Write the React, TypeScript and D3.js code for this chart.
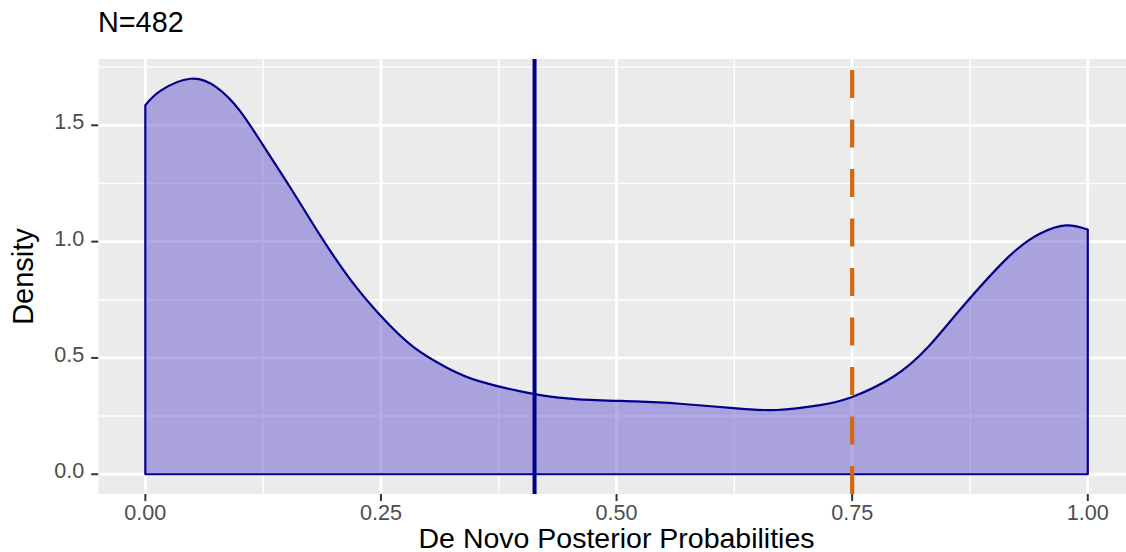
import React from "react";
import * as d3 from "d3";

// density curve
const densityX = [0, 0.016, 0.048, 0.076, 0.1, 0.125, 0.155, 0.185, 0.217, 0.25, 0.285, 0.32, 0.355, 0.413, 0.46, 0.52, 0.567, 0.624, 0.67, 0.716, 0.75, 0.794, 0.829, 0.864, 0.914, 0.949, 0.977, 1.0];
const densityY = [1.586, 1.648, 1.70, 1.662, 1.564, 1.414, 1.225, 1.03, 0.84, 0.68, 0.545, 0.458, 0.399, 0.344, 0.322, 0.313, 0.303, 0.284, 0.276, 0.297, 0.332, 0.42, 0.54, 0.705, 0.927, 1.034, 1.070, 1.052];

const meanLine = 0.413;
const cutLine = 0.75;

const xTicks = [0, 0.25, 0.5, 0.75, 1.0];
const xMinor = [0.125, 0.375, 0.625, 0.875];
const yTicks = [0, 0.5, 1.0, 1.5];
const yMinor = [0.25, 0.75, 1.25, 1.75];

const title = "N=482";
const xTitle = "De Novo Posterior Probabilities";
const yTitle = "Density";

const W = 1126;
const H = 552;
const panel = { left: 98.2, right: 1134.9, top: 59, bottom: 494 };

export default function App() {
  const x = d3.scaleLinear().domain([-0.05, 1.05]).range([panel.left, panel.right]);
  const y = d3.scaleLinear().domain([-0.085, 1.785]).range([panel.bottom, panel.top]);

  const pts: [number, number][] = densityX.map((v, i) => [v, densityY[i]]);
  const line = d3
    .line<[number, number]>()
    .x((d) => x(d[0]))
    .y((d) => y(d[1]))
    .curve(d3.curveNatural);
  const curveD = line(pts) || "";
  const x0 = x(densityX[0]);
  const x1 = x(densityX[densityX.length - 1]);
  const base = y(0);
  const shapeD = `M${x0},${base}L${curveD.slice(1)}L${x1},${base}Z`;

  const font = "'Liberation Sans', Arial, sans-serif";

  return (
    <svg
      width={W}
      height={H}
      style={{ position: "absolute", left: 0, top: 0, background: "#fff" }}
      fontFamily={font}
    >
      <defs>
        <clipPath id="panelClip">
          <rect x={panel.left} y={panel.top} width={panel.right - panel.left} height={panel.bottom - panel.top} />
        </clipPath>
      </defs>
      <text x={98} y={32} fontSize={28.8} fill="#000">
        {title}
      </text>

      <g clipPath="url(#panelClip)">
        <rect x={panel.left} y={panel.top} width={panel.right - panel.left} height={panel.bottom - panel.top} fill="#EBEBEB" />
        {xMinor.map((t) => (
          <line key={"xm" + t} x1={x(t)} x2={x(t)} y1={panel.top} y2={panel.bottom} stroke="#fff" strokeWidth={1.4} />
        ))}
        {yMinor.map((t) => (
          <line key={"ym" + t} x1={panel.left} x2={panel.right} y1={y(t)} y2={y(t)} stroke="#fff" strokeWidth={1.4} />
        ))}
        {xTicks.map((t) => (
          <line key={"xg" + t} x1={x(t)} x2={x(t)} y1={panel.top} y2={panel.bottom} stroke="#fff" strokeWidth={2.8} />
        ))}
        {yTicks.map((t) => (
          <line key={"yg" + t} x1={panel.left} x2={panel.right} y1={y(t)} y2={y(t)} stroke="#fff" strokeWidth={2.8} />
        ))}

        <path d={shapeD} fill="#6A5ACD" fillOpacity={0.5} stroke="none" />
        <path d={shapeD} fill="none" stroke="#00008B" strokeWidth={2.2} strokeLinejoin="round" />

        <line x1={x(meanLine)} x2={x(meanLine)} y1={panel.top} y2={panel.bottom} stroke="#00008B" strokeWidth={4} />
        <line
          x1={x(cutLine)}
          x2={x(cutLine)}
          y1={panel.bottom}
          y2={panel.top}
          stroke="#D2690F"
          strokeWidth={4.2}
          strokeDasharray="28 21.5"
        />
      </g>

      {/* y axis */}
      {yTicks.map((t) => (
        <g key={"yt" + t}>
          <line x1={panel.left - 7} x2={panel.left} y1={y(t)} y2={y(t)} stroke="#333" strokeWidth={2} />
          <text x={panel.left - 14} y={y(t) + 4} textAnchor="end" fontSize={21.6} fill="#4D4D4D">
            {d3.format(".1f")(t)}
          </text>
        </g>
      ))}
      {/* x axis */}
      {xTicks.map((t) => (
        <g key={"xt" + t}>
          <line x1={x(t)} x2={x(t)} y1={panel.bottom} y2={panel.bottom + 7} stroke="#333" strokeWidth={2} />
          <text x={x(t)} y={519.5} textAnchor="middle" fontSize={21.6} fill="#4D4D4D">
            {d3.format(".2f")(t)}
          </text>
        </g>
      ))}

      <text x={(panel.left + panel.right) / 2} y={547.5} textAnchor="middle" fontSize={28.5} fill="#000">
        {xTitle}
      </text>
      <text
        transform={`translate(33,${(panel.top + panel.bottom) / 2}) rotate(-90)`}
        textAnchor="middle"
        fontSize={29}
        fill="#000"
      >
        {yTitle}
      </text>
    </svg>
  );
}
